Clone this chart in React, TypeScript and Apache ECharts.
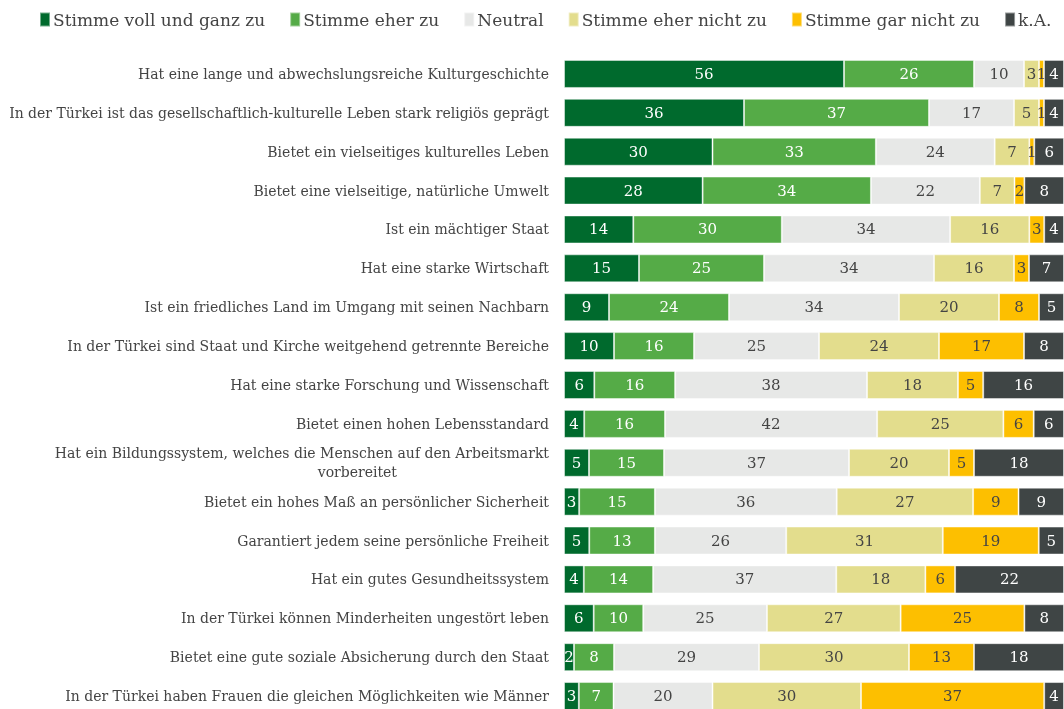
import React, { useEffect, useRef } from "react";
import * as echarts from "echarts";

const categories = [
  "Hat eine lange und abwechslungsreiche Kulturgeschichte",
  "In der Türkei ist das gesellschaftlich-kulturelle Leben stark religiös geprägt",
  "Bietet ein vielseitiges kulturelles Leben",
  "Bietet eine vielseitige, natürliche Umwelt",
  "Ist ein mächtiger Staat",
  "Hat eine starke Wirtschaft",
  "Ist ein friedliches Land im Umgang mit seinen Nachbarn",
  "In der Türkei sind Staat und Kirche weitgehend getrennte Bereiche",
  "Hat eine starke Forschung und Wissenschaft",
  "Bietet einen hohen Lebensstandard",
  "Hat ein Bildungssystem, welches die Menschen auf den Arbeitsmarkt\nvorbereitet",
  "Bietet ein hohes Maß an persönlicher Sicherheit",
  "Garantiert jedem seine persönliche Freiheit",
  "Hat ein gutes Gesundheitssystem",
  "In der Türkei können Minderheiten ungestört leben",
  "Bietet eine gute soziale Absicherung durch den Staat",
  "In der Türkei haben Frauen die gleichen Möglichkeiten wie Männer",
];

const seriesNames = [
  "Stimme voll und ganz zu",
  "Stimme eher zu",
  "Neutral",
  "Stimme eher nicht zu",
  "Stimme gar nicht zu",
  "k.A.",
];

const vollUndGanz = [56, 36, 30, 28, 14, 15, 9, 10, 6, 4, 5, 3, 5, 4, 6, 2, 3];
const eherZu = [26, 37, 33, 34, 30, 25, 24, 16, 16, 16, 15, 15, 13, 14, 10, 8, 7];
const neutral = [10, 17, 24, 22, 34, 34, 34, 25, 38, 42, 37, 36, 26, 37, 25, 29, 20];
const eherNicht = [3, 5, 7, 7, 16, 16, 20, 24, 18, 25, 20, 27, 31, 18, 27, 30, 30];
const garNicht = [1, 1, 1, 2, 3, 3, 8, 17, 5, 6, 5, 9, 19, 6, 25, 13, 37];
const kA = [4, 4, 6, 8, 4, 7, 5, 8, 16, 6, 18, 9, 5, 22, 8, 18, 4];

const seriesData = [vollUndGanz, eherZu, neutral, eherNicht, garNicht, kA];
const colors = ["#006a2d", "#55ab47", "#e7e8e7", "#e3dd8d", "#fdbf00", "#3f4545"];
const labelColors = ["#ffffff", "#ffffff", "#444444", "#444444", "#444444", "#ffffff"];

const FONT = "DejaVu Serif";

export default function App() {
  const ref = useRef<HTMLDivElement>(null);
  useEffect(() => {
    if (!ref.current) return;
    const chart = echarts.init(ref.current, undefined, { renderer: "svg" });
    // each row is shown as a 100% bar (rounded values may sum to 99 or 101)
    const rowTotals = categories.map((_, r) => seriesData.reduce((s, d) => s + d[r], 0));
    chart.setOption({
      animation: false,
      textStyle: { fontFamily: FONT },
      legend: {
        top: 6,
        left: 34,
        itemWidth: 10,
        itemHeight: 14,
        itemGap: 24,
        icon: "rect",
        textStyle: { fontFamily: FONT, fontSize: 17, color: "#444444", padding: [0, 0, 0, -2] },
        data: seriesNames,
      },
      grid: { left: 564, top: 54.5, width: 500, height: 661, outerBoundsMode: "none" },
      xAxis: { type: "value", min: 0, max: 100, show: false },
      yAxis: {
        type: "category",
        inverse: true,
        data: categories,
        axisLine: { show: false },
        axisTick: { show: false },
        axisLabel: {
          margin: 15,
          fontFamily: FONT,
          fontSize: 14,
          color: "#444444",
          lineHeight: 19,
          formatter: (v: string) => {
            const parts = v.split("\n");
            if (parts.length > 1) return parts[0] + "\n{b|" + parts[1] + "}";
            return v;
          },
          rich: { b: { fontFamily: FONT, fontSize: 14, color: "#444444", padding: [0, 152, 0, 0] } },
        },
      },
      series: seriesData.map((d, i) => ({
        name: seriesNames[i],
        type: "bar",
        stack: "total",
        barCategoryGap: "28%",
        data: d.map((v, r) => ({ value: (v / rowTotals[r]) * 100, raw: v })),
        itemStyle: { color: colors[i], borderColor: "rgba(255,255,255,0.45)", borderWidth: 1 },
        label: {
          show: true,
          position: "inside",
          fontFamily: FONT,
          fontSize: 15,
          color: labelColors[i],
          formatter: (p: any) => String(d[p.dataIndex]),
        },
      })),
    });
    return () => chart.dispose();
  }, []);
  return <div ref={ref} style={{ position: "fixed", left: 0, top: 0, width: 1064, height: 709 }} />;
}
